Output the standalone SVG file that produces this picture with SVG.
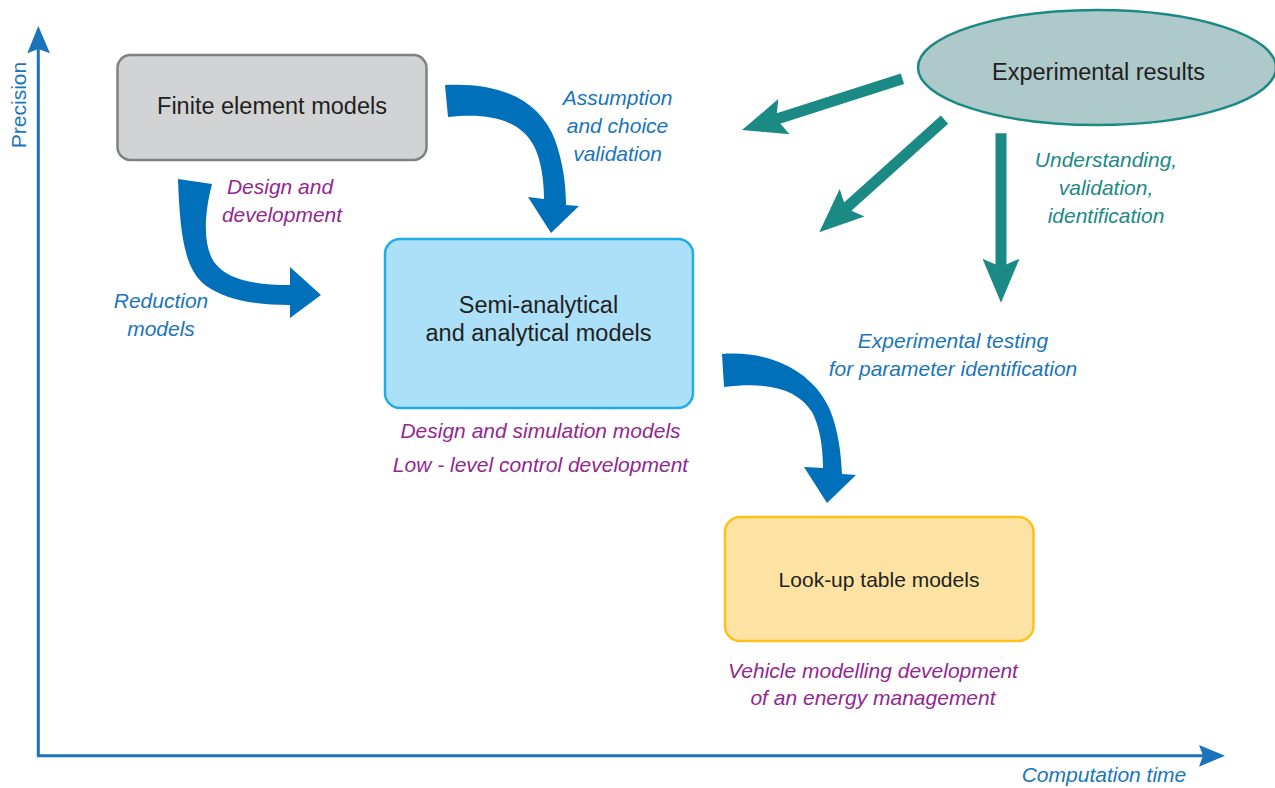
<svg xmlns="http://www.w3.org/2000/svg" width="1275" height="788" viewBox="0 0 1275 788">
<style>
  .node { font-family: "Liberation Sans", Arial, sans-serif; fill: #231f20; text-anchor: middle; }
  .lbl { font-family: "Liberation Sans", Arial, sans-serif; font-style: italic; font-size: 21px; text-anchor: middle; }
  .blue { fill: #1a75bb; }
  .purple { fill: #93278f; }
  .teal { fill: #1b8a84; }
  .axis { stroke: #1a73bb; stroke-width: 3; fill: none; }
  .bigarrow { fill: #0070ba; }
  .tealarrow { stroke: #1b8a84; stroke-width: 11; fill: none; marker-end: url(#tealhead); }
</style>
<defs>
  <marker id="tealhead" markerUnits="userSpaceOnUse" markerWidth="60" markerHeight="60" refX="0" refY="0" orient="auto" overflow="visible">
    <path d="M30,0 L-14,-18.5 L-6,0 L-14,18.5 Z" fill="#1b8a84"/>
  </marker>
</defs>
<rect x="0" y="0" width="1275" height="788" fill="#ffffff"/>

<g id="axes">
  <line class="axis" x1="38.3" y1="757" x2="38.3" y2="45"/>
  <path d="M38.3,26 L50,53.3 L38.3,49 L27.3,53.3 Z" fill="#1a73bb"/>
  <line class="axis" x1="37" y1="755.7" x2="1206" y2="755.7"/>
  <path d="M1225,755.7 L1199,745 L1203,755.7 L1199,766.7 Z" fill="#1a73bb"/>
  <text class="lbl blue" style="font-style:normal" transform="translate(26,105) rotate(-90)">Precision</text>
  <text class="lbl blue" x="1104" y="782">Computation time</text>
</g>

<g id="connectors">
  <path class="bigarrow" d="M178,179 C180,240 186,270 205,285 C225,300 255,305 290,305 L290,318 L321,295 L290,267 L290,285 C255,285 227,280 214,262 C203,245 204,215 212,184 Z"/>
  <path class="bigarrow" d="M445,85 C500,82 540,100 555,140 C563,162 566,185 566,205 L579,206 L551,233 L528,197 L544,199 C544,180 541,160 534,146 C522,123 495,112 448,117 Z"/>
  <path class="bigarrow" d="M722,354 C775,350 815,375 830,410 C838,430 841,452 842,474 L856,475 L827,503 L804,467 L823,468 C823,445 819,425 812,412 C798,390 770,381 724,387 Z"/>
  <line class="tealarrow" x1="902.4" y1="78.7" x2="770.6" y2="120.9"/>
  <line class="tealarrow" x1="944.5" y1="119.7" x2="841.6" y2="212.2"/>
  <line class="tealarrow" x1="1001" y1="133.3" x2="1001" y2="272.7"/>
</g>

<g id="finite">
  <rect x="117.5" y="55" width="309" height="105" rx="13" fill="#d1d3d4" stroke="#808080" stroke-width="2.5"/>
  <text class="node" x="272" y="114" font-size="23.5">Finite element models</text>
</g>

<g id="semi">
  <rect x="385" y="239" width="308" height="169" rx="15" fill="#abe0f8" stroke="#1fadea" stroke-width="2.5"/>
  <text class="node" x="538.5" y="313" font-size="23.5">Semi-analytical</text>
  <text class="node" x="538.5" y="341" font-size="23.5">and analytical models</text>
</g>

<g id="lookup">
  <rect x="725" y="517" width="308.5" height="124" rx="15" fill="#fde3a3" stroke="#fcc21b" stroke-width="2.5"/>
  <text class="node" x="879" y="587" font-size="21">Look-up table models</text>
</g>

<g id="experimental">
  <ellipse cx="1097" cy="67.5" rx="179" ry="57.5" fill="#adc9c9" stroke="#1b8a84" stroke-width="2.5"/>
  <text class="node" x="1098.5" y="80" font-size="23.5">Experimental results</text>
</g>

<g id="labels">
  <text class="lbl blue" x="617.5" y="104.5">Assumption</text>
  <text class="lbl blue" x="617.5" y="132.5">and choice</text>
  <text class="lbl blue" x="617.5" y="160.5">validation</text>
  <text class="lbl purple" x="280" y="194">Design and</text>
  <text class="lbl purple" x="282" y="221.5">development</text>
  <text class="lbl blue" x="161" y="308">Reduction</text>
  <text class="lbl blue" x="161" y="336">models</text>
  <text class="lbl purple" x="540.5" y="438">Design and simulation models</text>
  <text class="lbl purple" x="540.5" y="472">Low - level control development</text>
  <text class="lbl teal" x="1106" y="167">Understanding,</text>
  <text class="lbl teal" x="1106" y="195">validation,</text>
  <text class="lbl teal" x="1106" y="223">identification</text>
  <text class="lbl blue" x="953" y="348">Experimental testing</text>
  <text class="lbl blue" x="953" y="376">for parameter identification</text>
  <text class="lbl purple" x="873" y="678">Vehicle modelling development</text>
  <text class="lbl purple" x="873" y="705">of an energy management</text>
</g>
</svg>
